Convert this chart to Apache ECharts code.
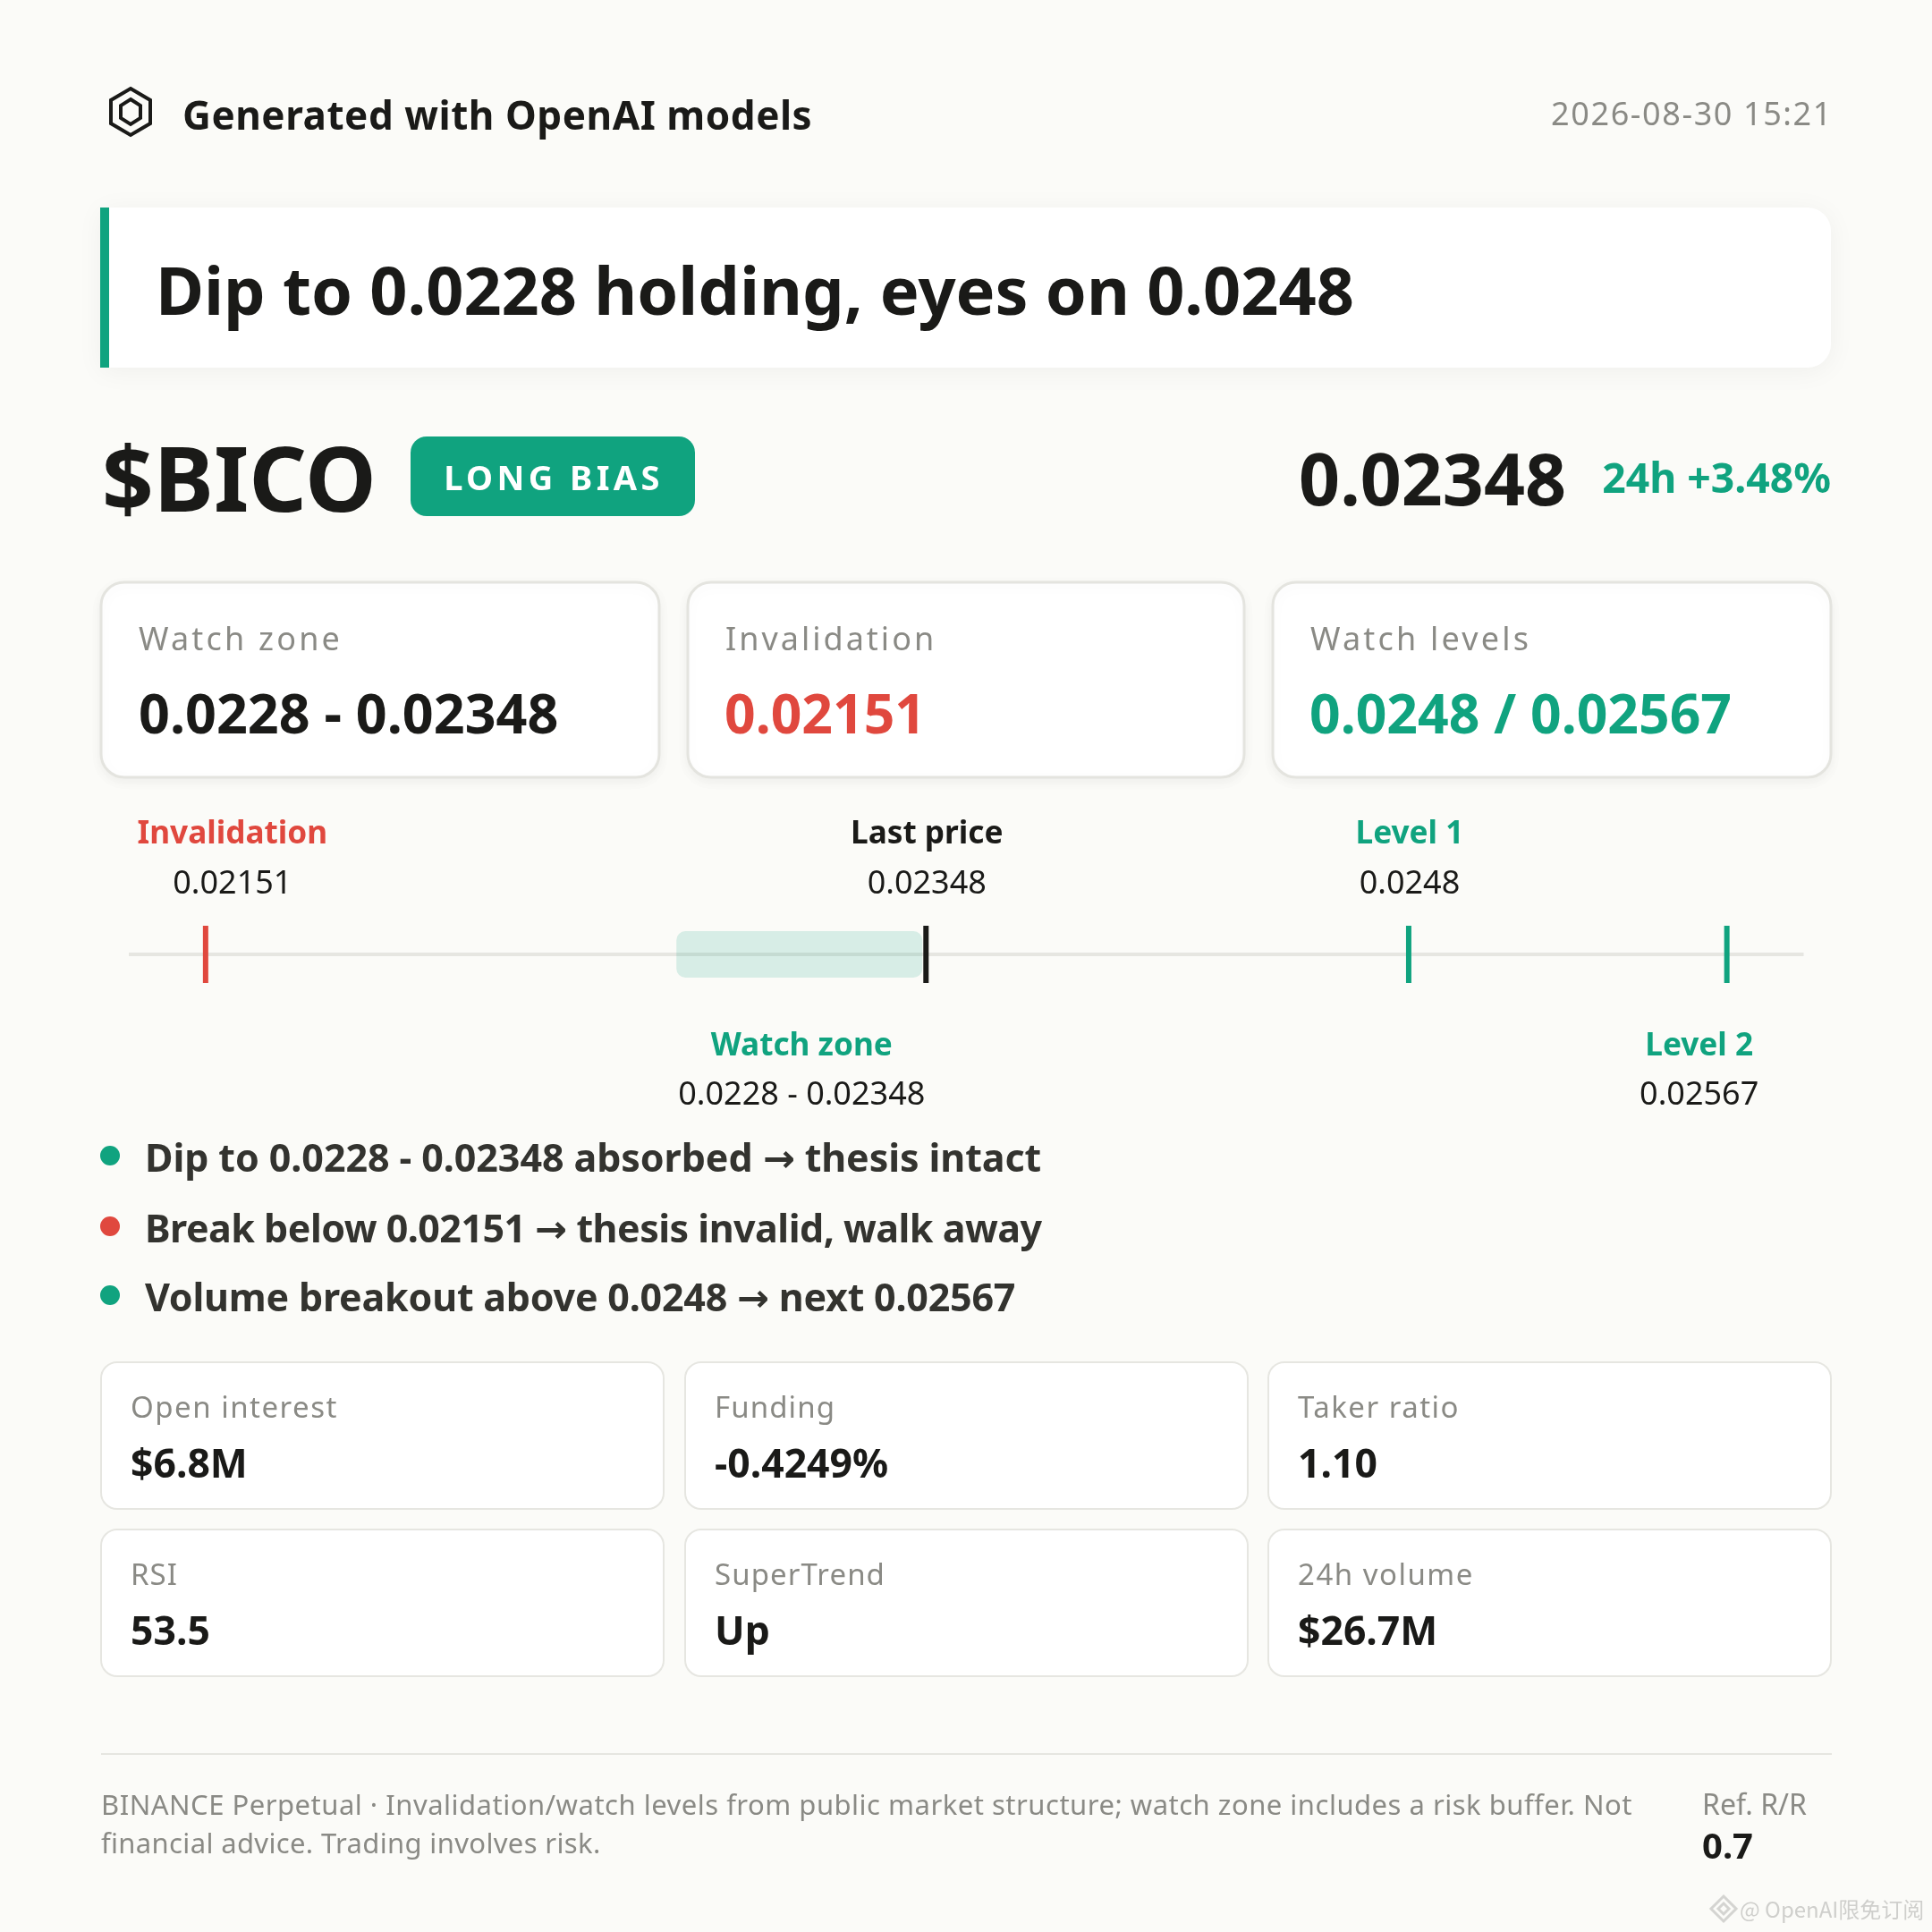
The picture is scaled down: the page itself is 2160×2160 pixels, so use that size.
<!DOCTYPE html>
<html><head><meta charset="utf-8">
<style>
@font-face{font-family:"ArrowGlyph";src:local("DejaVu Sans Bold"),local("DejaVuSans-Bold");font-weight:700;unicode-range:U+2192}
html,body{margin:0;padding:0;background:#fbfbf8}#c{width:2160px;height:2160px}</style>
<script src="https://cdn.jsdelivr.net/npm/echarts@6/dist/echarts.min.js"></script>
</head><body><div id="c"></div>
<script>
const brand = 'Generated with OpenAI models';
const stamp = '2026-08-30 15:21';
const headline = 'Dip to 0.0228 holding, eyes on 0.0248';
const ticker = '$BICO';
const badge = 'LONG BIAS';
const lastPrice = '0.02348';
const change = '24h +3.48%';
const topLabels = ['Watch zone', 'Invalidation', 'Watch levels'];
const topValues = ['0.0228 - 0.02348', '0.02151', '0.0248 / 0.02567'];
const levelNames = ['Invalidation', 'Last price', 'Level 1', 'Level 2'];
const levelValues = [0.02151, 0.02348, 0.0248, 0.02567];
const zoneName = 'Watch zone';
const zoneRange = [0.0228, 0.02348];
const bullets = ['Dip to 0.0228 - 0.02348 absorbed → thesis intact', 'Break below 0.02151 → thesis invalid, walk away', 'Volume breakout above 0.0248 → next 0.02567'];
const metricLabels = ['Open interest', 'Funding', 'Taker ratio', 'RSI', 'SuperTrend', '24h volume'];
const metricValues = ['$6.8M', '-0.4249%', '1.10', '53.5', 'Up', '$26.7M'];
const footLines = ['BINANCE Perpetual · Invalidation/watch levels from public market structure; watch zone includes a risk buffer. Not', 'financial advice. Trading involves risk.'];
const rrLabel = 'Ref. R/R';
const rrValue = '0.7';
const watermark = '@ OpenAI限免订阅';

const INK='#1a1a18', GREEN='#10a37f', RED='#e0483e', GREY='#8a8a85', LINE='#e6e6e1';
const FF='"Noto Sans"';
const BULLET_FF='"ArrowGlyph","Noto Sans"';
const levelColors=[RED,INK,GREEN,GREEN];
const levelShift=[30,1,1,-31];

// per-text tracking applied natively by the canvas; keyed by weight as well as text
const tracking = {};
const track=(t,v,bold)=>{tracking[(bold?'b:':'r:')+t]=v+'px'};
track(stamp,1.6); track(badge,4.4,true); track(brand,0.55,true);
[3.2,3.0,3.2].forEach((v,i)=>track(topLabels[i],v));
[1.5,1.1,1.5,1.0,1.1,1.5].forEach((v,i)=>track(metricLabels[i],v));
[0.5,0.35].forEach((v,i)=>track(footLines[i],v));
[-0.08,-0.52,-0.22].forEach((v,i)=>track(bullets[i],v,true));
const proto=CanvasRenderingContext2D.prototype, ft=proto.fillText;
proto.fillText=function(t,x,y){
  const bold=/^(bold|700)/.test(this.font);
  this.letterSpacing=tracking[(bold?'b:':'r:')+t]||'0px';
  ft.call(this,t,x,y);
  this.letterSpacing='0px';
};

const txt=(text,x,y,size,weight,fill,align,ff)=>({type:'text',silent:true,z:5,style:{text,x,y,fill,align:align||'left',verticalAlign:'middle',font:`${weight} ${size}px ${ff||FF}`}});
const box=(x,y,w,h,r,fill,stroke,lw,shadow)=>({type:'rect',silent:true,z:1,shape:{x,y,width:w,height:h,r},style:Object.assign({fill,stroke,lineWidth:lw||0},shadow?{shadowBlur:shadow,shadowColor:'rgba(0,0,0,0.05)',shadowOffsetY:4}:{})});
const hex=(cx,cy,rx,ry,lw)=>({type:'polygon',silent:true,z:5,shape:{points:[[cx,cy-ry],[cx+rx,cy-ry/2],[cx+rx,cy+ry/2],[cx,cy+ry],[cx-rx,cy+ry/2],[cx-rx,cy-ry/2]]},style:{fill:'none',stroke:INK,lineWidth:lw,lineJoin:'miter'}});

const g=[];
g.push(hex(146,125,22,26,4), hex(146,125,11,14,4));
g.push(txt(brand,204,132,44,700,INK));
g.push(txt(stamp,2049,130,36,400,GREY,'right'));
g.push(box(113,232,1934,179,[0,26,26,0],'#ffffff',null,0,30));
g.push({type:'rect',silent:true,z:2,shape:{x:112,y:232,width:10,height:179},style:{fill:GREEN}});
g.push(txt(headline,174,331,73.8,700,INK));
g.push(txt(ticker,114,543,101,700,INK));
g.push(box(459,488,318,89,18,GREEN));
g.push(txt(badge,619,537,38,700,'#fff','center'));
g.push(txt(lastPrice,1751,542,80.5,700,INK,'right'));
g.push(txt(change,2047,538,46.3,700,GREEN,'right'));
[113,769,1423].forEach((x,i)=>{
  g.push(box(x,651,i===1?622:624,218,26,'#fff','#e4e4df',3,14));
  g.push(txt(topLabels[i],x+42,717,36,400,GREY));
  g.push(txt(topValues[i],x+(i===0?42:41),803,i===0?61:60.6,700,[INK,RED,GREEN][i]));
});
bullets.forEach((t,i)=>{
  const y=[1292,1371,1448][i];
  g.push({type:'circle',silent:true,z:5,shape:{cx:123,cy:y,r:11},style:{fill:[GREEN,RED,GREEN][i]}});
  g.push(txt(t,162,y+6,43,700,'#33332f','left',BULLET_FF));
});
metricLabels.forEach((t,i)=>{
  const x=[113,766,1418][i%3], y=i<3?1523:1710;
  g.push(box(x,y,629,164,18,'#fff','#e6e6e1',2));
  g.push(txt(t,x+33,y+53,33,400,GREY));
  g.push(txt(metricValues[i],x+33,y+116,44.5,700,INK));
});
g.push({type:'rect',silent:true,z:2,shape:{x:113,y:1960,width:1935,height:2},style:{fill:LINE}});
footLines.forEach((t,i)=>g.push(txt(t,113,[2020,2063][i],31,400,GREY)));
g.push(txt(rrLabel,1903,2020,32,400,GREY));
g.push(txt(rrValue,1903,2067,40,700,INK));
g.push(txt(watermark,1945,2135,24,400,'#cfcfcc','left','"Noto Sans CJK SC"'));
g.push({type:'polygon',silent:true,z:5,shape:{points:[[1927,2120],[1941,2134],[1927,2148],[1913,2134]]},style:{fill:'none',stroke:'#d4d4d1',lineWidth:3}});
g.push({type:'polygon',silent:true,z:5,shape:{points:[[1927,2128],[1933,2134],[1927,2140],[1921,2134]]},style:{fill:'none',stroke:'#d4d4d1',lineWidth:3}});

const labelTexts=(name,val,x,color,y1,y2)=>[
  {type:'text',silent:true,style:{text:name,x,y:y1,align:'center',verticalAlign:'middle',fill:color,font:`700 35.2px ${FF}`}},
  {type:'text',silent:true,style:{text:val,x,y:y2,align:'center',verticalAlign:'middle',fill:INK,font:`400 36px ${FF}`}}
];
const option={
  animation:false,
  backgroundColor:'#fbfbf8',
  graphic:{elements:g},
  grid:{left:144,width:1872.5,top:1035,height:64,containLabel:false},
  xAxis:{type:'value',min:0.0213,max:0.02588,splitLine:{show:false},axisTick:{show:false},axisLabel:{show:false},
    axisLine:{show:true,onZero:true,lineStyle:{color:LINE,width:4,cap:'butt'}}},
  yAxis:{type:'value',min:-1,max:1,show:false},
  series:[
    {type:'custom',clip:false,z:3,data:[[zoneRange[0],zoneRange[1]]],encode:{x:[0,1]},
     renderItem(p,api){
      const a=api.coord([api.value(0),1]),b=api.coord([api.value(1),-1]);
      const mid=(a[0]+b[0])/2;
      return {type:'group',children:[
        {type:'rect',shape:{x:a[0]-1,y:a[1]+6,width:b[0]-a[0]-3,height:b[1]-a[1]-12,r:10},style:{fill:'rgba(16,163,127,0.15)'}},
        ...labelTexts(zoneName,topValues[0],mid,GREEN,1170,1225)
      ]};
     }},
    {type:'custom',clip:false,z:4,data:levelValues.map((v,i)=>[v,i]),encode:{x:0},
     renderItem(p,api){
      const i=api.value(1), v=api.value(0), top=api.coord([v,1]), bot=api.coord([v,-1]);
      const kids=[{type:'rect',shape:{x:top[0]-3,y:top[1],width:6,height:bot[1]-top[1]},style:{fill:levelColors[i]}}];
      const below=i===3;
      return {type:'group',children:kids.concat(labelTexts(levelNames[i],String(v),top[0]+levelShift[i],levelColors[i],below?1170:933,below?1225:989))};
     }}
  ]
};
const chart=echarts.init(document.getElementById('c'),null,{renderer:'canvas',devicePixelRatio:1});
chart.setOption(option);
document.fonts.load('700 43px ArrowGlyph','→').then(()=>chart.setOption(option,true)).catch(()=>{});
</script></body></html>
